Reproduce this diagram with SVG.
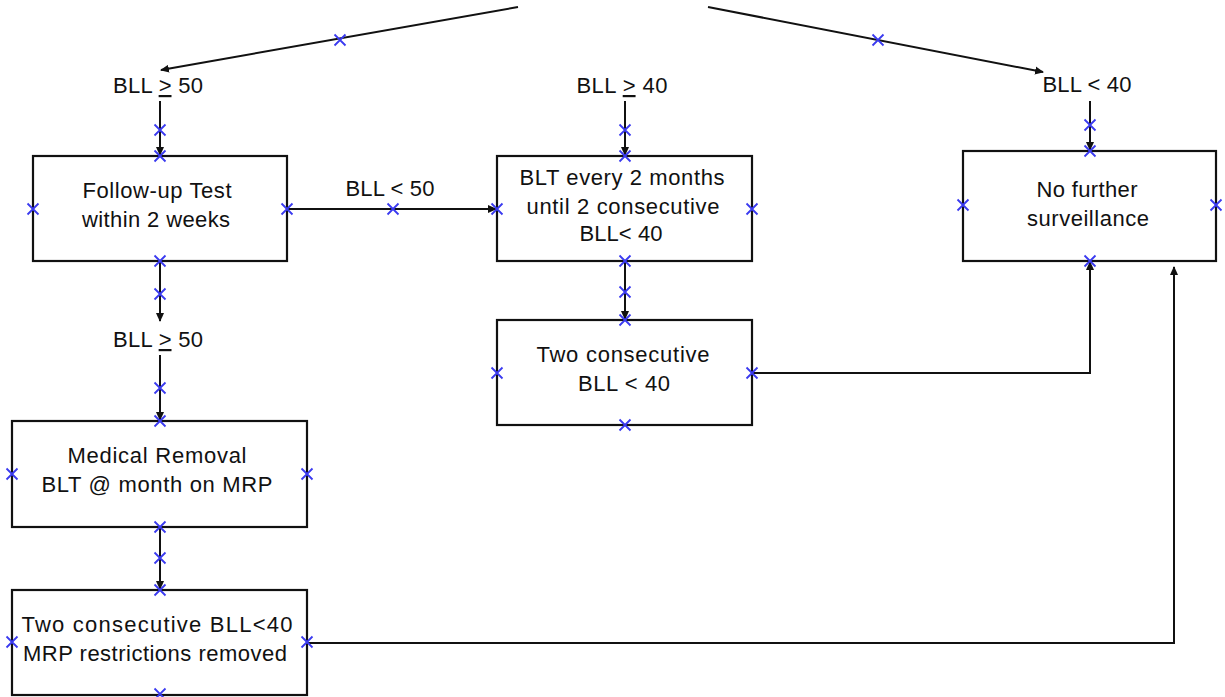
<svg xmlns="http://www.w3.org/2000/svg" xmlns:xlink="http://www.w3.org/1999/xlink" width="1225" height="697" viewBox="0 0 1225 697">
<style>
.box{fill:#fff;stroke:#111;stroke-width:2.2}
.t{font-family:"Liberation Sans",Arial,sans-serif;font-size:22px;fill:#111;text-anchor:middle}
.c{fill:none;stroke:#111;stroke-width:2}
.x{stroke:#3a3af0;stroke-width:1.8;fill:none}
.u{text-decoration:underline}
</style>
<defs>
<marker id="ah" markerWidth="9" markerHeight="9" refX="8" refY="4.5" orient="auto" markerUnits="userSpaceOnUse">
<path d="M0,0.5 L9,4.5 L0,8.5 z" fill="#111"/>
</marker>
<g id="xm"><path class="x" d="M-5.5,-5.5 L5.5,5.5 M-5.5,5.5 L5.5,-5.5"/></g>
</defs>
<rect width="1225" height="697" fill="#fff"/>

<g id="connectors">
<path class="c" d="M518,7 L161,70" marker-end="url(#ah)"/>
<path class="c" d="M708,7 L1043,72" marker-end="url(#ah)"/>
<path class="c" d="M160,101 L160,155" marker-end="url(#ah)"/>
<path class="c" d="M625,101 L625,155" marker-end="url(#ah)"/>
<path class="c" d="M1090,101 L1090,150" marker-end="url(#ah)"/>
<path class="c" d="M287,209 L496,209" marker-end="url(#ah)"/>
<path class="c" d="M160,261 L160,321" marker-end="url(#ah)"/>
<path class="c" d="M160,355 L160,420" marker-end="url(#ah)"/>
<path class="c" d="M625,261 L625,319" marker-end="url(#ah)"/>
<path class="c" d="M160,527 L160,589" marker-end="url(#ah)"/>
<path class="c" d="M752,373 L1090,373 L1090,262" marker-end="url(#ah)"/>
<path class="c" d="M307,643 L1174,643 L1174,267" marker-end="url(#ah)"/>
</g>

<g id="labels">
<text class="t" x="158" y="93" textLength="90" lengthAdjust="spacing">BLL <tspan class="u">&gt;</tspan> 50</text>
<text class="t" x="622" y="93" textLength="91" lengthAdjust="spacing">BLL <tspan class="u">&gt;</tspan> 40</text>
<text class="t" x="1087" y="92" textLength="89" lengthAdjust="spacing">BLL &lt; 40</text>
<text class="t" x="390" y="196" textLength="89" lengthAdjust="spacing">BLL &lt; 50</text>
<text class="t" x="158" y="347" textLength="90" lengthAdjust="spacing">BLL <tspan class="u">&gt;</tspan> 50</text>
</g>

<g id="node-followup">
<rect class="box" x="33" y="156" width="254" height="105"/>
<text class="t" x="157" y="198" textLength="149" lengthAdjust="spacing">Follow-up Test</text>
<text class="t" x="156" y="227" textLength="148" lengthAdjust="spacing">within 2 weeks</text>
</g>

<g id="node-blt2months">
<rect class="box" x="497" y="156" width="255" height="105"/>
<text class="t" x="622" y="185" textLength="205" lengthAdjust="spacing">BLT every 2 months</text>
<text class="t" x="623" y="214" textLength="193" lengthAdjust="spacing">until 2 consecutive</text>
<text class="t" x="621" y="241" textLength="83" lengthAdjust="spacing">BLL&lt; 40</text>
</g>

<g id="node-nofurther">
<rect class="box" x="963" y="151" width="253" height="110"/>
<text class="t" x="1087" y="197" textLength="101" lengthAdjust="spacing">No further</text>
<text class="t" x="1088" y="226" textLength="122" lengthAdjust="spacing">surveillance</text>
</g>

<g id="node-twoconsec">
<rect class="box" x="497" y="320" width="255" height="105"/>
<text class="t" x="623" y="362" textLength="173" lengthAdjust="spacing">Two consecutive</text>
<text class="t" x="624" y="391" textLength="92" lengthAdjust="spacing">BLL &lt; 40</text>
</g>

<g id="node-medical">
<rect class="box" x="12" y="421" width="295" height="106"/>
<text class="t" x="157" y="463" textLength="179" lengthAdjust="spacing">Medical Removal</text>
<text class="t" x="157" y="492" textLength="231" lengthAdjust="spacing">BLT @ month on MRP</text>
</g>

<g id="node-mrpremoved">
<rect class="box" x="12" y="590" width="295" height="105"/>
<text class="t" x="157" y="632" textLength="271" lengthAdjust="spacing">Two consecutive BLL&lt;40</text>
<text class="t" x="155" y="661" textLength="264" lengthAdjust="spacing">MRP restrictions removed</text>
</g>

<g id="connection-points">
<use xlink:href="#xm" x="340" y="40"/>
<use xlink:href="#xm" x="878" y="40"/>
<use xlink:href="#xm" x="160" y="130"/>
<use xlink:href="#xm" x="625" y="130"/>
<use xlink:href="#xm" x="1090" y="125"/>
<use xlink:href="#xm" x="160" y="156"/>
<use xlink:href="#xm" x="33" y="209"/>
<use xlink:href="#xm" x="287" y="209"/>
<use xlink:href="#xm" x="160" y="261"/>
<use xlink:href="#xm" x="393" y="209"/>
<use xlink:href="#xm" x="625" y="156"/>
<use xlink:href="#xm" x="497" y="209"/>
<use xlink:href="#xm" x="752" y="209"/>
<use xlink:href="#xm" x="625" y="261"/>
<use xlink:href="#xm" x="1090" y="151"/>
<use xlink:href="#xm" x="963" y="205"/>
<use xlink:href="#xm" x="1216" y="205"/>
<use xlink:href="#xm" x="1090" y="261"/>
<use xlink:href="#xm" x="160" y="294"/>
<use xlink:href="#xm" x="625" y="292"/>
<use xlink:href="#xm" x="625" y="320"/>
<use xlink:href="#xm" x="497" y="373"/>
<use xlink:href="#xm" x="752" y="373"/>
<use xlink:href="#xm" x="625" y="425"/>
<use xlink:href="#xm" x="160" y="388"/>
<use xlink:href="#xm" x="160" y="421"/>
<use xlink:href="#xm" x="12" y="474"/>
<use xlink:href="#xm" x="307" y="474"/>
<use xlink:href="#xm" x="160" y="527"/>
<use xlink:href="#xm" x="160" y="558"/>
<use xlink:href="#xm" x="160" y="590"/>
<use xlink:href="#xm" x="12" y="642"/>
<use xlink:href="#xm" x="307" y="642"/>
<use xlink:href="#xm" x="160" y="694"/>
</g>
</svg>
